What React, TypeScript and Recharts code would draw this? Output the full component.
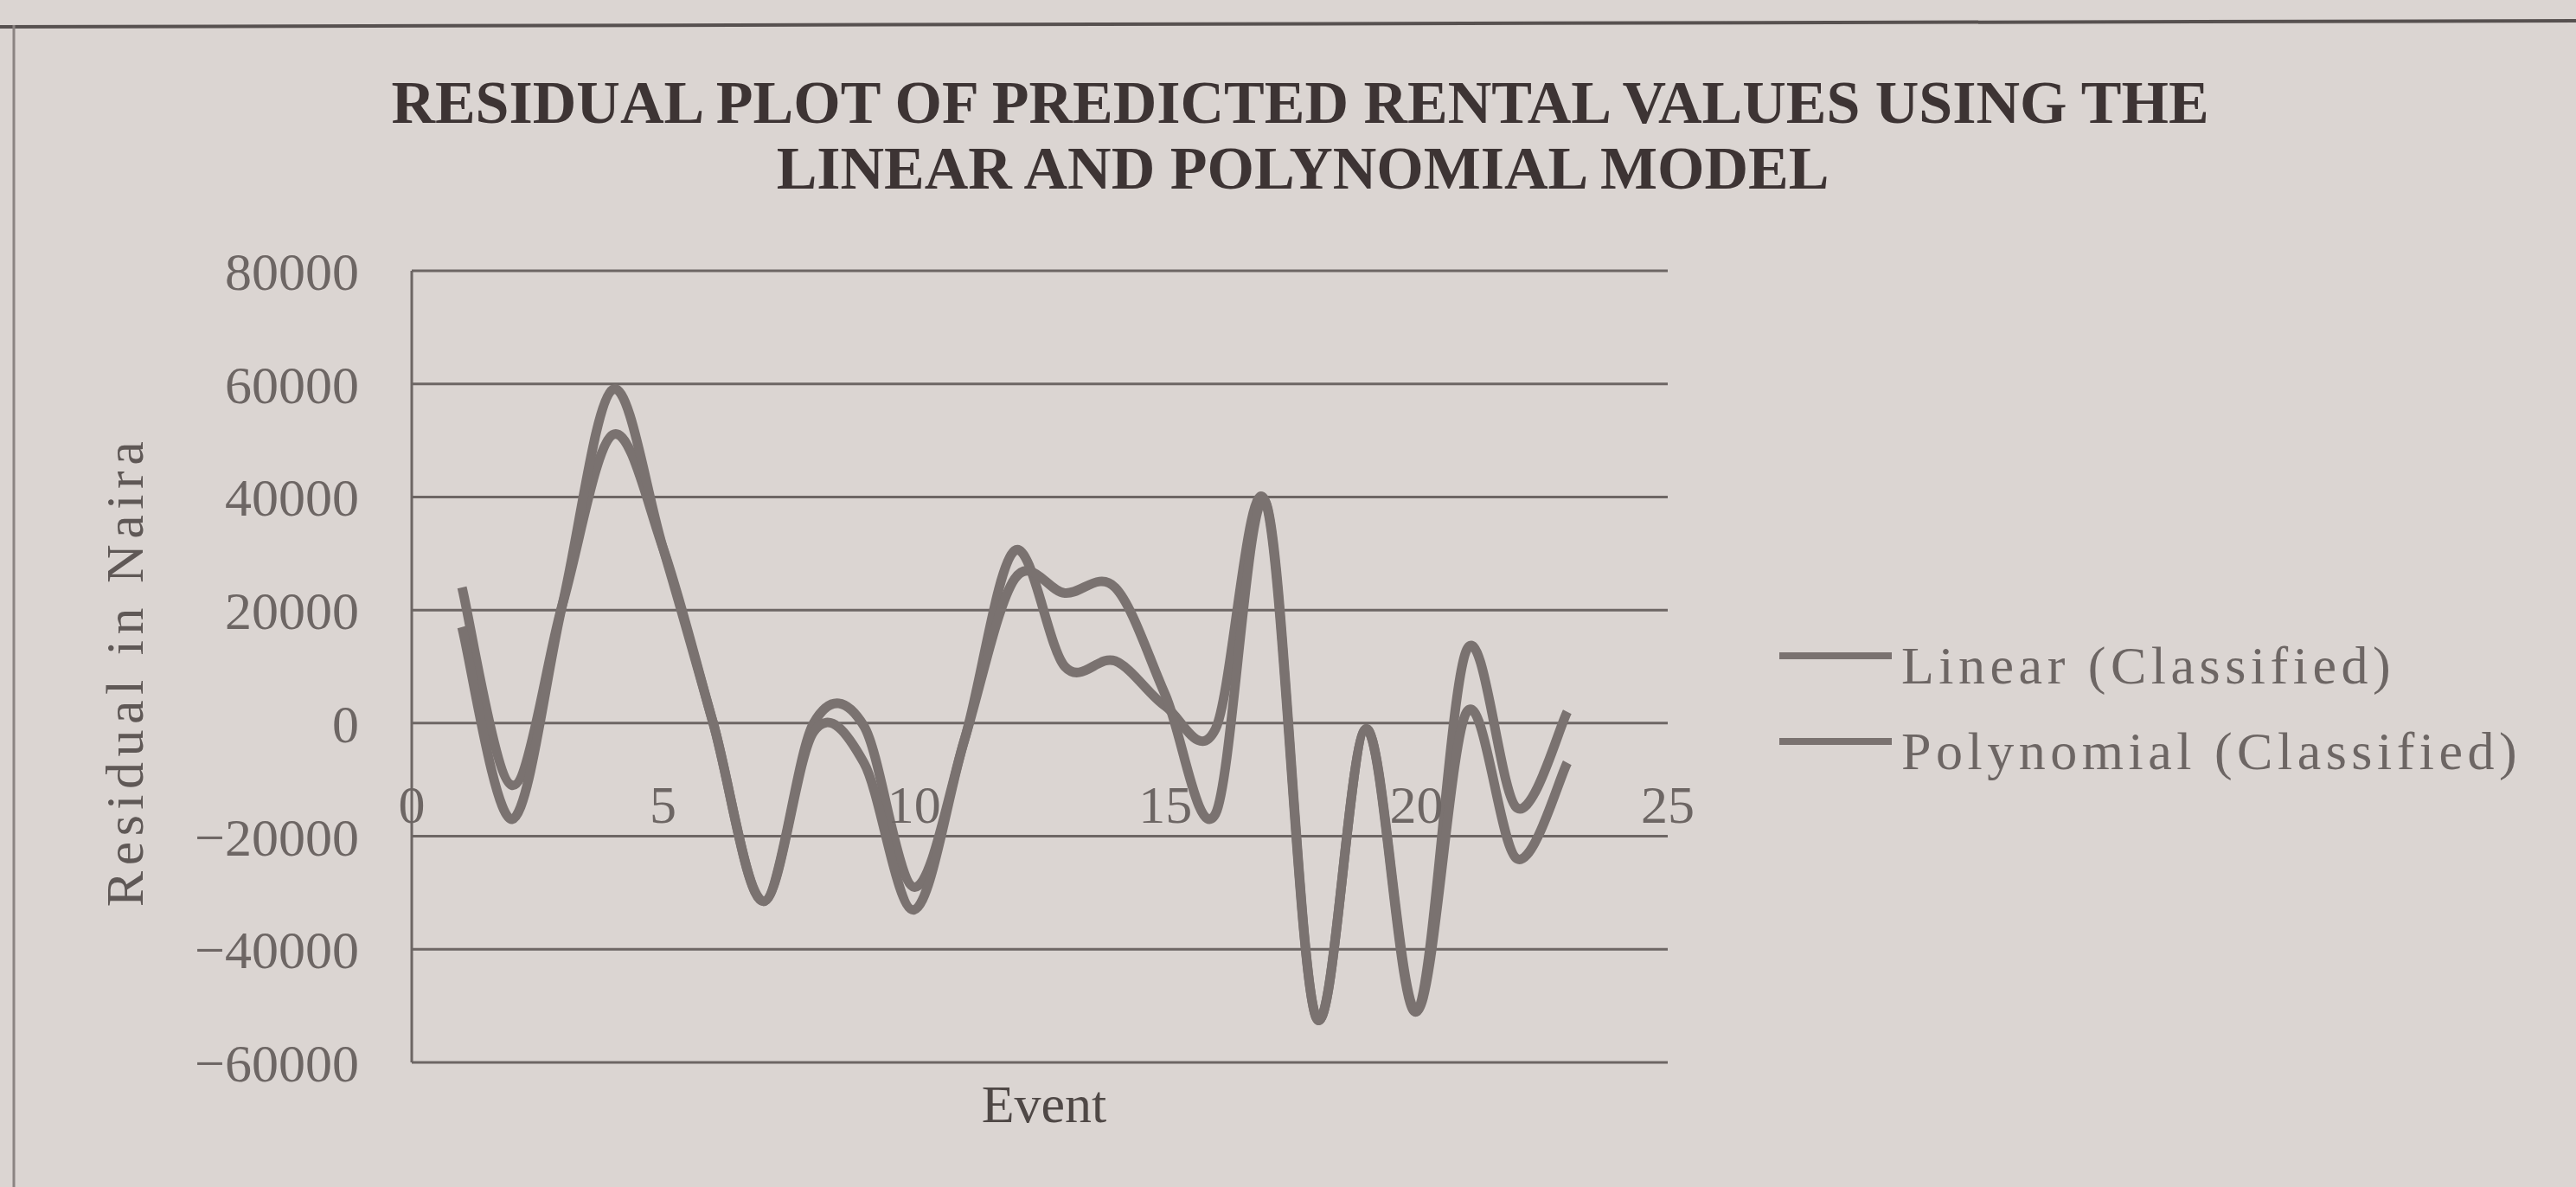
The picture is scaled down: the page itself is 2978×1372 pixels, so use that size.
import React from 'react';
import { LineChart, Line, XAxis, YAxis, CartesianGrid, Legend } from 'recharts';

// residuals per event
const EVENTS = [1, 2, 3, 4, 5, 6, 7, 8, 9, 10, 11, 12, 13, 14, 15, 16, 17, 18, 19, 20, 21, 22, 23];
const LINEAR = [24000, -11000, 21000, 51000, 31000, 0, -31500, 0, -500, -29000, -3000, 30500, 10000, 11000, 3000, -1000, 39000, -52000, -1000, -51000, 13000, -15000, 2000];
const POLYNOMIAL = [17000, -17000, 21000, 59000, 31000, 0, -31500, -1500, -7000, -33000, -3000, 25500, 23000, 24000, 5000, -16000, 39000, -52000, -1000, -51000, 2000, -24000, -7000];
const X_TICKS = [0, 5, 10, 15, 20, 25];
const Y_TICKS = [-60000, -40000, -20000, 0, 20000, 40000, 60000, 80000];
const SERIES = [
    { key: 'linear', name: 'Linear (Classified)' },
    { key: 'polynomial', name: 'Polynomial (Classified)' },
];

const W = 2978;
const H = 1372;
const PLOT_LEFT = 476;
const PLOT_TOP = 313;
const PLOT_BOTTOM = 1228;
const PLOT_RIGHT = 1928;
const Y_MIN = -60000;
const Y_MAX = 80000;
const ZERO_Y = PLOT_TOP + ((PLOT_BOTTOM - PLOT_TOP) * Y_MAX) / (Y_MAX - Y_MIN);

const INK = '#6d6664';
const LINE = '#7a7270';
const SERIF = '"Liberation Serif", "Times New Roman", serif';

const data = EVENTS.map((e, i) => ({ event: e, linear: LINEAR[i], polynomial: POLYNOMIAL[i] }));

// Excel style smoothed line (Catmull-Rom through the points)
const excelCurve = (context: any) => {
    let pts: number[][] = [];
    return {
        areaStart() {},
        areaEnd() {},
        lineStart() {
            pts = [];
        },
        point(x: number, y: number) {
            pts.push([+x, +y]);
        },
        lineEnd() {
            if (!pts.length) return;
            context.moveTo(pts[0][0], pts[0][1]);
            for (let i = 0; i < pts.length - 1; i++) {
                const p0 = pts[i - 1] || pts[i];
                const p1 = pts[i];
                const p2 = pts[i + 1];
                const p3 = pts[i + 2] || p2;
                context.bezierCurveTo(
                    p1[0] + (p2[0] - p0[0]) / 6,
                    p1[1] + (p2[1] - p0[1]) / 6,
                    p2[0] - (p3[0] - p1[0]) / 6,
                    p2[1] - (p3[1] - p1[1]) / 6,
                    p2[0],
                    p2[1]
                );
            }
        },
    };
};

const XTick = ({ x, payload }: any) => (
    <text x={x} y={ZERO_Y + 115} textAnchor="middle" fontSize={62} fontFamily={SERIF} fill={INK}>
        {payload.value}
    </text>
);

const renderLegend = () => (
    <svg width={930} height={220}>
        {SERIES.map((s, i) => (
            <g key={s.key}>
                <line x1={17} x2={147} y1={58 + i * 99} y2={58 + i * 99} stroke={LINE} strokeWidth={8} />
                <text x={158} y={90 + i * 99} fontSize={62} fontFamily={SERIF} fill={INK} letterSpacing={5.5}>
                    {s.name}
                </text>
            </g>
        ))}
    </svg>
);

export default function App() {
    return (
        <div style={{ position: 'relative', width: W, height: H, background: '#dbd5d2', overflow: 'hidden' }}>
            <style>{`body { margin: 0; background: #dbd5d2; }`}</style>
            <LineChart
                width={W}
                height={H}
                data={data}
                margin={{ top: PLOT_TOP, right: W - PLOT_RIGHT, bottom: H - PLOT_BOTTOM - 30, left: 0 }}
            >
                <CartesianGrid vertical={false} stroke={INK} strokeWidth={3} />
                <XAxis
                    dataKey="event"
                    type="number"
                    domain={[0, 25]}
                    ticks={X_TICKS}
                    height={30}
                    axisLine={false}
                    tickLine={false}
                    tick={<XTick />}
                />
                <YAxis
                    domain={[Y_MIN, Y_MAX]}
                    ticks={Y_TICKS}
                    width={PLOT_LEFT}
                    axisLine={{ stroke: INK, strokeWidth: 3 }}
                    tickLine={false}
                    tickSize={0}
                    tickMargin={61}
                    tickFormatter={(v: number) => String(v).replace('-', '\u2212')}
                    tick={{ fontSize: 62, fontFamily: SERIF, fill: INK }}
                />
                <Legend
                    layout="horizontal"
                    align="center"
                    verticalAlign="middle"
                    wrapperStyle={{ left: 2040, top: 700, width: 930, height: 220 }}
                    content={renderLegend}
                />
                {SERIES.map(s => (
                    <Line
                        key={s.key}
                        dataKey={s.key}
                        name={s.name}
                        type={excelCurve as any}
                        stroke={LINE}
                        strokeWidth={11}
                        dot={false}
                        activeDot={false}
                        isAnimationActive={false}
                    />
                ))}
            </LineChart>
            <svg width={W} height={H} style={{ position: 'absolute', left: 0, top: 0, pointerEvents: 'none' }}>
                <line x1={0} y1={31} x2={W} y2={24} stroke="#575150" strokeWidth={4} />
                <line x1={16} y1={29} x2={16} y2={H} stroke="#8b8482" strokeWidth={3} />
                <text x={1503} y={142} textAnchor="middle" fontSize={70} fontWeight="bold" fontFamily={SERIF} fill="#3d3434">
                    RESIDUAL PLOT OF PREDICTED RENTAL VALUES USING THE
                </text>
                <text x={1506} y={218} textAnchor="middle" fontSize={70} fontWeight="bold" fontFamily={SERIF} fill="#3d3434">
                    LINEAR AND POLYNOMIAL MODEL
                </text>
                <text
                    transform="translate(165,776) rotate(-90)"
                    textAnchor="middle"
                    fontSize={62}
                    fontFamily={SERIF}
                    fill="#5f5856"
                    letterSpacing={6.5}
                >
                    Residual in Naira
                </text>
                <text x={1207} y={1297} textAnchor="middle" fontSize={62} fontFamily={SERIF} fill="#4f4846">
                    Event
                </text>
            </svg>
        </div>
    );
}
